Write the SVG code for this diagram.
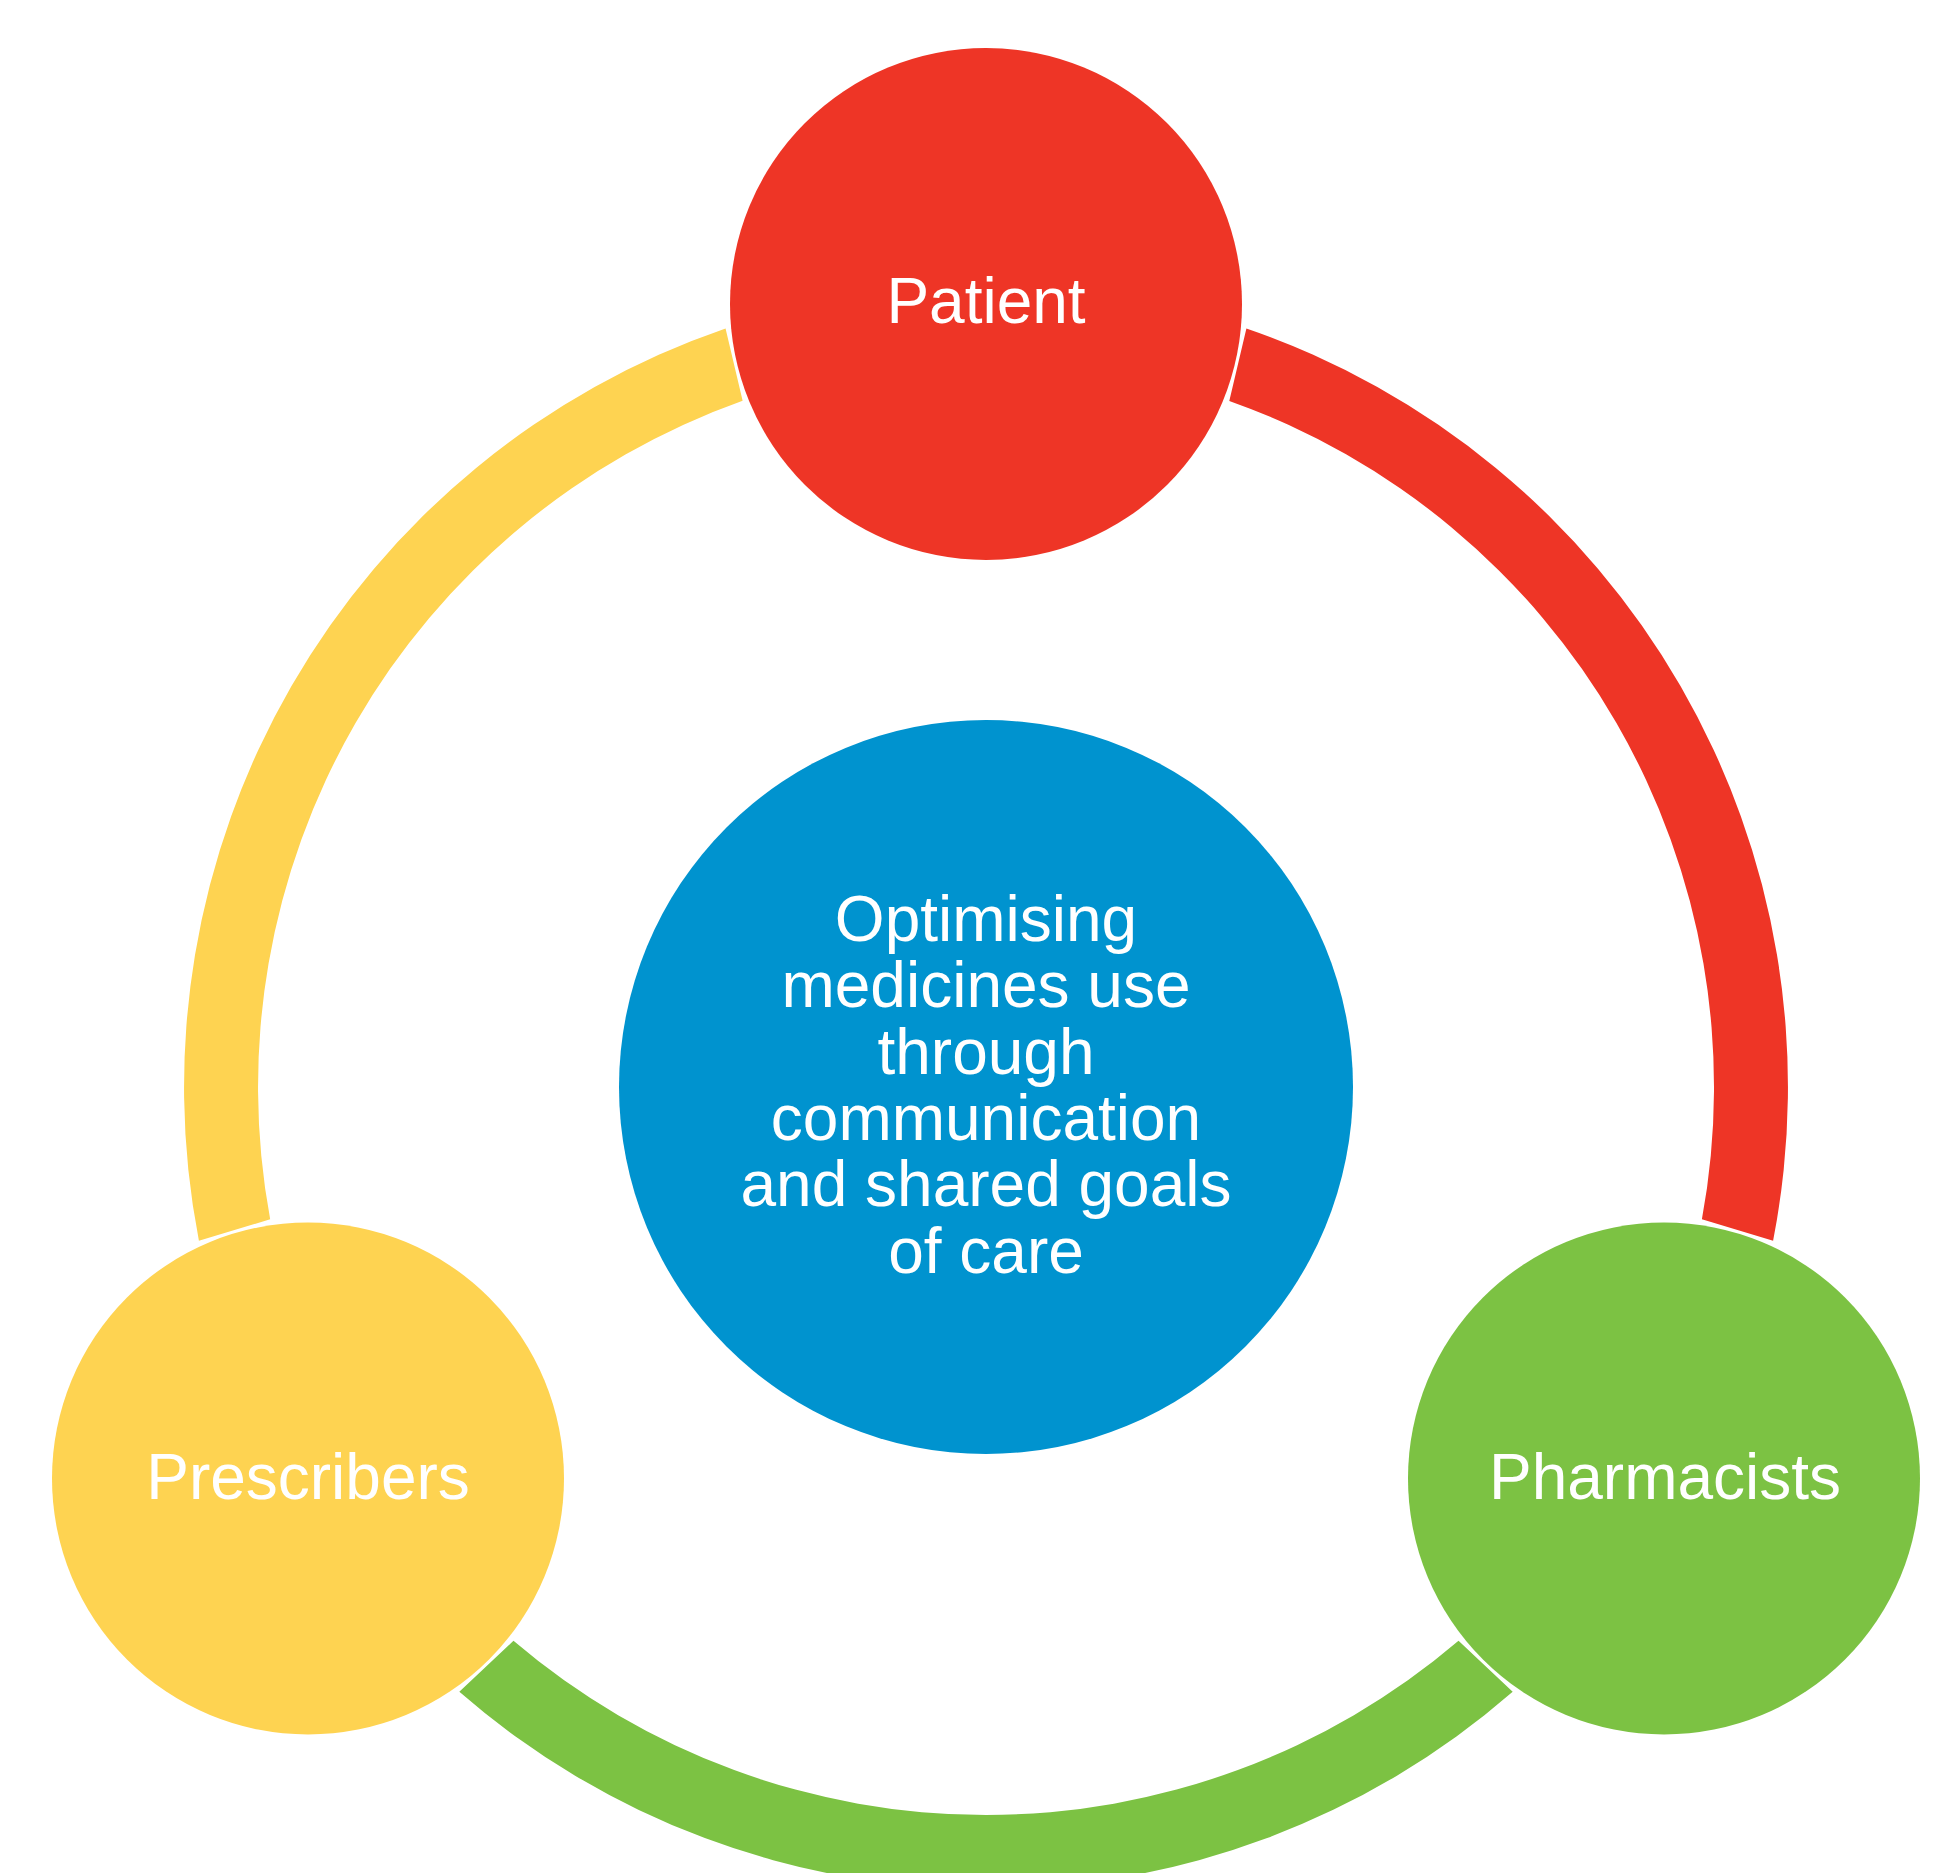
<svg xmlns="http://www.w3.org/2000/svg" xmlns:xlink="http://www.w3.org/1999/xlink" width="1955" height="1873" viewBox="0 0 1955 1873">
  <style>
    .label { font-family: "Liberation Sans", Arial, sans-serif; font-size: 64px; fill: #FFFFFF; text-anchor: middle; }
  </style>
  <defs>
    <!-- Ring segment between two outer nodes, centred at -30deg around the hub (986,1087) -->
    <path id="segment" d="M1246.4,328.5 A802,802 0 0 1 1773.1,1240.7 L1701.9,1219.3 A728,728 0 0 0 1229.3,400.9 Z"/>
  </defs>
  <rect width="1955" height="1873" fill="#FFFFFF"/>

  <g id="connectors">
    <use xlink:href="#segment" href="#segment" fill="#EE3526"/>
    <use xlink:href="#segment" href="#segment" fill="#7CC243" transform="rotate(120 986 1087)"/>
    <use xlink:href="#segment" href="#segment" fill="#FED351" transform="rotate(240 986 1087)"/>
  </g>

  <g id="patient">
    <circle cx="986" cy="304" r="256" fill="#EE3526"/>
    <text class="label" x="986" y="323">Patient</text>
  </g>

  <g id="prescribers">
    <circle cx="308" cy="1478.5" r="256" fill="#FED351"/>
    <text class="label" x="308" y="1499">Prescribers</text>
  </g>

  <g id="pharmacists">
    <circle cx="1664" cy="1478.5" r="256" fill="#7CC243"/>
    <text class="label" x="1665" y="1499">Pharmacists</text>
  </g>

  <g id="goal">
    <circle cx="986" cy="1087" r="367" fill="#0093CF"/>
    <text class="label" x="986" y="941">Optimising</text>
    <text class="label" x="986" y="1007.3">medicines use</text>
    <text class="label" x="986" y="1073.6">through</text>
    <text class="label" x="986" y="1139.9">communication</text>
    <text class="label" x="986" y="1206.2">and shared goals</text>
    <text class="label" x="986" y="1272.5">of care</text>
  </g>
</svg>
